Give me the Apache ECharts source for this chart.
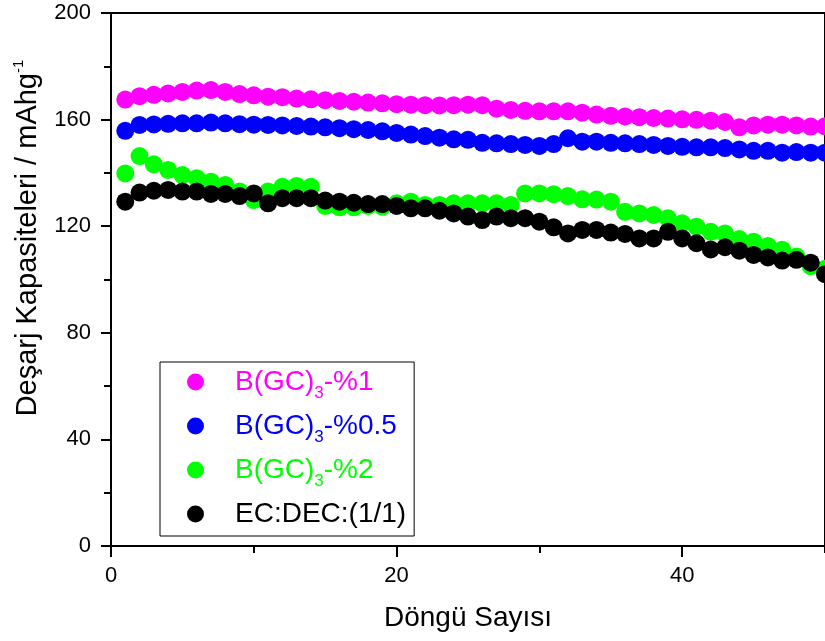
<!DOCTYPE html>
<html>
<head>
<meta charset="utf-8">
<script src="https://cdn.jsdelivr.net/npm/echarts@6/dist/echarts.min.js"></script>
<style>
html,body{margin:0;padding:0;background:#fff;}
#chart{width:825px;height:641px;}
</style>
</head>
<body>
<div id="chart"></div>
<script>
var cycles = [];
for (var c = 1; c <= 50; c++) cycles.push(c);

var seriesNames = ['B(GC)3-%1', 'B(GC)3-%0.5', 'B(GC)3-%2', 'EC:DEC:(1/1)'];
var seriesColors = ['#ff00ff', '#0000ff', '#00ff00', '#000000'];

var pct1 = [167.5,168.8,169.3,169.8,170.4,170.9,171.1,170.4,169.6,169.1,
            168.6,168.4,167.9,167.6,167.3,167.0,166.7,166.4,166.1,165.8,
            165.6,165.4,165.3,165.4,165.6,165.4,164.1,163.6,163.3,163.1,
            163.1,163.1,162.6,161.9,161.4,161.2,160.9,160.6,160.4,160.1,
            159.9,159.6,159.1,157.1,157.8,158.1,158.1,157.8,157.4,157.5];
var pct05 = [155.8,158.0,158.2,158.4,158.6,158.6,158.9,158.6,158.3,158.1,
             158.0,157.8,157.6,157.4,157.1,156.8,156.4,156.1,155.6,155.0,
             154.4,153.8,153.2,152.6,152.4,151.3,151.1,150.8,150.5,150.1,
             150.8,153.0,151.7,151.7,151.3,151.1,150.8,150.5,150.1,149.8,
             149.6,149.6,149.3,148.8,148.3,148.3,147.6,147.8,147.6,147.6];
var pct2 = [139.8,146.3,143.2,141.1,139.2,138.0,136.7,135.5,133.0,129.8,
            133.0,134.8,135.1,134.8,127.6,127.1,127.1,127.6,127.3,128.6,
            129.2,128.0,128.0,128.6,128.6,128.6,128.6,128.0,132.3,132.3,
            132.0,131.3,130.1,130.0,129.2,125.4,124.8,124.2,123.0,121.1,
            119.8,117.9,117.3,115.2,114.2,112.6,111.2,108.6,105.0,104.0];
var ecdec = [129.2,132.6,133.3,133.6,133.0,133.0,132.1,132.1,131.3,132.3,
             128.6,130.5,130.5,130.5,129.6,129.2,128.8,128.3,128.3,127.6,
             126.7,126.7,125.8,124.8,123.6,122.3,123.6,123.0,123.0,121.7,
             119.6,117.3,118.6,118.6,117.6,117.1,115.4,115.4,117.9,115.4,
             113.6,111.3,112.1,110.8,109.2,108.3,107.1,107.4,106.3,102.0];

var yTicks = [0, 40, 80, 120, 160, 200];
var xTicks = [0, 20, 40];

var allValues = [pct1, pct05, pct2, ecdec];
var FONT = 'Liberation Sans, Arial, sans-serif';

function pairs(vals) {
  return cycles.map(function (x, i) { return [x, vals[i]]; });
}

function legendLabel(name) {
  return name.replace('B(GC)3', 'B(GC){sub|3}');
}

var chart = echarts.init(document.getElementById('chart'), null, {renderer: 'canvas'});

var option = {
  backgroundColor: '#ffffff',
  animation: false,
  grid: {
    left: 111, top: 13, right: -2.5, bottom: 95,
    show: true, borderColor: '#000', borderWidth: 2, backgroundColor: 'transparent'
  },
  xAxis: [{
    type: 'value', min: 0, max: 50, interval: 20,
    position: 'bottom',
    name: 'Döngü Sayısı', nameLocation: 'middle', nameGap: 58,
    nameTextStyle: {fontFamily: FONT, fontSize: 28, color: '#000'},
    axisLine: {show: true, onZero: false, lineStyle: {color: '#000', width: 2}},
    axisTick: {show: true, inside: false, length: 11, lineStyle: {color: '#000', width: 2}},
    axisLabel: {
      show: true, margin: 19, fontFamily: FONT, fontSize: 22, color: '#000',
      showMaxLabel: false,
      formatter: function (v) { return xTicks.indexOf(v) >= 0 ? String(v) : ''; }
    },
    splitLine: {show: false}
  }, {
    type: 'value', min: 0, max: 50, interval: 10,
    position: 'bottom',
    axisLine: {show: false, onZero: false},
    axisTick: {show: true, inside: false, length: 7, lineStyle: {color: '#000', width: 2}},
    axisLabel: {show: false},
    splitLine: {show: false}
  }],
  yAxis: {
    type: 'value', min: 0, max: 200, interval: 40,
    axisLine: {show: true, onZero: false, lineStyle: {color: '#000', width: 2}},
    axisTick: {show: true, inside: false, length: 10, lineStyle: {color: '#000', width: 2}},
    minorTick: {show: true, splitNumber: 2, length: 7, lineStyle: {color: '#000', width: 2}},
    axisLabel: {
      margin: 20, fontFamily: FONT, fontSize: 22, color: '#000',
      formatter: function (v) { return yTicks.indexOf(v) >= 0 ? String(v) : ''; }
    },
    splitLine: {show: false}
  },
  graphic: [{
    type: 'text',
    x: 28, y: 238,
    rotation: Math.PI / 2,
    z: 100,
    style: {
      text: 'Deşarj Kapasiteleri / mAhg{sup|-1}',
      fontFamily: FONT, fontSize: 29, fill: '#000',
      align: 'center', verticalAlign: 'middle',
      rich: {
        sup: {fontFamily: FONT, fontSize: 15, fill: '#000', verticalAlign: 'top', lineHeight: 34, padding: [0, 0, 14, 0]}
      }
    }
  }],
  legend: {
    orient: 'vertical',
    left: 160, top: 362,
    padding: [0, 8, 2, 27],
    borderColor: '#000', borderWidth: 1,
    backgroundColor: '#fff',
    itemWidth: 17, itemHeight: 17, itemGap: 4,
    icon: 'circle',
    selectedMode: false,
    formatter: legendLabel,
    data: seriesNames.map(function (n, i) {
      return {
        name: n,
        itemStyle: {color: seriesColors[i]},
        textStyle: {
          color: seriesColors[i], fontFamily: FONT, fontSize: 28, lineHeight: 40,
          padding: [0, 0, 0, 26],
          rich: {
            sub: {color: seriesColors[i], fontFamily: FONT, fontSize: 17, lineHeight: 17, verticalAlign: 'bottom'}
          }
        }
      };
    })
  },
  series: seriesNames.map(function (n, i) {
    return {
      name: n,
      type: 'scatter',
      symbol: 'circle',
      symbolSize: 18,
      itemStyle: {color: seriesColors[i], opacity: 1},
      emphasis: {disabled: true},
      z: 2 + i,
      data: pairs(allValues[i])
    };
  })
};

chart.setOption(option);
</script>
</body>
</html>
